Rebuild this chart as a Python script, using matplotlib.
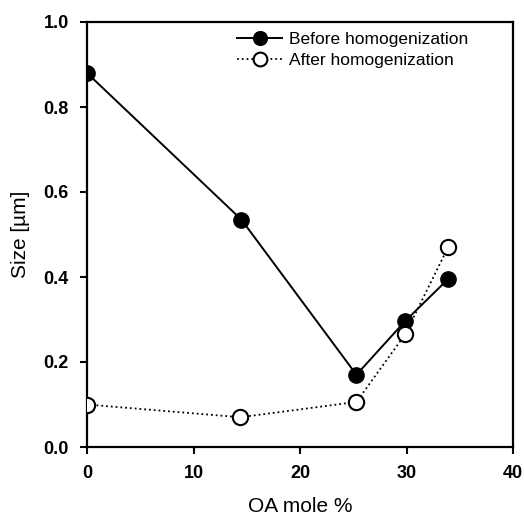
import matplotlib
matplotlib.use("Agg")
import matplotlib.pyplot as plt

plt.rcParams['font.family'] = ['Liberation Sans', 'DejaVu Sans']

oa_before = [0, 14.5, 25.3, 29.9, 33.9]
size_before = [0.88, 0.535, 0.170, 0.297, 0.395]
oa_after = [0, 14.4, 25.3, 29.9, 33.9]
size_after = [0.100, 0.070, 0.106, 0.266, 0.470]
xticks = [0, 10, 20, 30, 40]
yticks = [0.0, 0.2, 0.4, 0.6, 0.8, 1.0]

fig = plt.figure(figsize=(5.24, 5.17), dpi=100)
ax = fig.add_axes([87/524, 1 - 447/517, (513-87)/524, (447-22)/517])

ax.plot(oa_before, size_before, '-', color='black', lw=1.4, marker='o',
        ms=11, mfc='black', mec='black', label='Before homogenization', zorder=3)
ax.plot(oa_after, size_after, ':', color='black', lw=1.3, marker='o',
        ms=11, mfc='white', mec='black', mew=1.5, label='After homogenization', zorder=4)

ax.set_xlim(0, 40)
ax.set_ylim(0, 1.0)
ax.set_xticks(xticks)
ax.set_xticklabels([str(t) for t in xticks])
ax.set_yticks(yticks)
ax.set_yticklabels([f"{t:.1f}" for t in yticks])
ax.tick_params(direction='out', length=5, width=1.5, labelsize=13, pad=8)
for lab in ax.get_xticklabels() + ax.get_yticklabels():
    lab.set_fontweight('bold')
for s in ax.spines.values():
    s.set_linewidth(1.6)

ax.set_xlabel('OA mole %', fontsize=15, labelpad=11)
ax.set_ylabel('Size [µm]', fontsize=15, labelpad=10)

ax.legend(loc='upper right', bbox_to_anchor=(0.932, 1.013), frameon=False, fontsize=12.5,
          handlelength=2.6, handletextpad=0.4, labelspacing=0.32, markerscale=0.9)

fig.savefig('out.png', dpi=100)
